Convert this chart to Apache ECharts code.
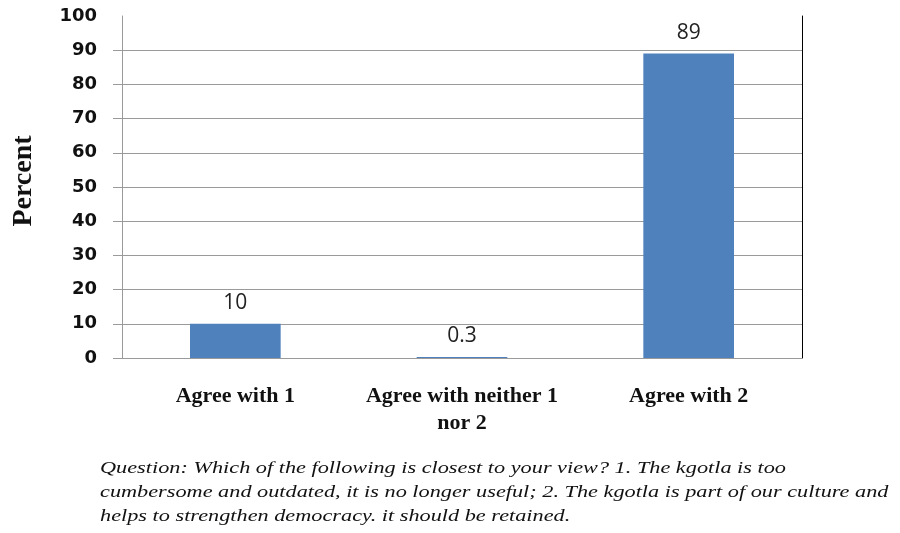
<!DOCTYPE html>
<html>
<head>
<meta charset="utf-8">
<script src="https://cdn.jsdelivr.net/npm/echarts@6/dist/echarts.min.js"></script>
<style>
  html, body { margin: 0; padding: 0; background: #fff; }
  #chart { width: 900px; height: 533px; }
</style>
</head>
<body>
<div id="chart"></div>
<script>
const categories = ['Agree with 1', 'Agree with neither 1\nnor 2', 'Agree with 2']
const percents = [10, 0.3, 89]
const yTicks = [0, 10, 20, 30, 40, 50, 60, 70, 80, 90]
const yTitle = 'Percent'
const captionLines = [
  'Question: Which of the following is closest to your view? 1. The kgotla is too',
  'cumbersome and outdated, it is no longer useful; 2. The kgotla is part of our culture and',
  'helps to strengthen democracy. it should be retained.'
]

const chart = echarts.init(document.getElementById('chart'))

// grid lines grey except the top one (100)
const splitColors = yTicks.map(() => '#9a9a9a').concat(['rgba(0,0,0,0)'])

chart.setOption({
  animation: false,
  backgroundColor: '#fff',
  grid: { left: 122, right: 98, top: 16, bottom: 175 },
  xAxis: {
    type: 'category',
    data: categories,
    axisLine: { lineStyle: { color: '#9a9a9a', width: 1 } },
    axisTick: { show: false },
    axisLabel: {
      interval: 0,
      hideOverlap: false,
      margin: 25,
      color: '#111',
      fontFamily: 'Liberation Serif',
      fontWeight: 'bold',
      fontSize: 22,
      lineHeight: 27
    }
  },
  yAxis: [
    {
      type: 'value',
      min: 0,
      max: 100,
      interval: 10,
      axisLine: { show: true, lineStyle: { color: '#9a9a9a', width: 1 } },
      axisTick: {
        show: true,
        inside: false,
        length: 9,
        customValues: yTicks,
        lineStyle: { color: '#9a9a9a' }
      },
      axisLabel: {
        margin: 25,
        color: '#111',
        fontFamily: 'DejaVu Sans',
        fontWeight: 'bold',
        fontSize: 18
      },
      splitLine: { show: true, lineStyle: { color: splitColors, width: 1 } }
    },
    {
      type: 'value',
      min: 0,
      max: 100,
      position: 'right',
      axisLine: { show: true, lineStyle: { color: '#000', width: 1 } },
      axisTick: { show: false },
      axisLabel: { show: false },
      splitLine: { show: false }
    }
  ],
  series: [
    {
      type: 'bar',
      data: percents,
      barWidth: '40%',
      itemStyle: { color: '#4f81bd' },
      label: {
        show: true,
        position: 'top',
        distance: 10,
        color: '#222',
        fontFamily: 'Open Sans',
        fontSize: 21
      }
    }
  ],
  graphic: [
    {
      type: 'text',
      x: 24,
      y: 181,
      rotation: Math.PI / 2,
      style: {
        text: yTitle,
        font: 'bold 28px "Liberation Serif"',
        align: 'center',
        verticalAlign: 'middle',
        fill: '#111'
      }
    },
    {
      type: 'text',
      x: 100,
      y: 457,
      scaleX: 1.31,
      style: {
        text: captionLines.join('\n'),
        font: 'italic 17px "Liberation Serif"',
        lineHeight: 24,
        fill: '#111'
      }
    }
  ]
})
</script>
</body>
</html>
